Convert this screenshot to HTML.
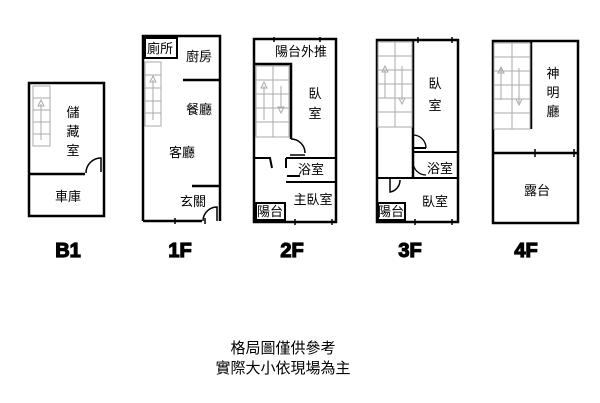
<!DOCTYPE html>
<html><head><meta charset="utf-8"><style>
html,body{margin:0;padding:0;background:#fff;}
svg{display:block;}
text{font-family:"Liberation Sans","Noto Sans CJK TC",sans-serif;fill:#000;}
.t{font-size:13px;text-anchor:middle;}
.f{font-size:20px;font-weight:bold;text-anchor:middle;stroke:#000;stroke-width:1.2;}
.st{stroke:#aaa;stroke-width:1;fill:none;}
</style></head><body>
<svg width="600" height="403" viewBox="0 0 600 403">
<g stroke="#000" stroke-width="2.5" fill="none">
<!-- B1 -->
<rect x="29" y="83" width="75" height="133"/>
<line x1="29" y1="174" x2="85" y2="174"/>
<path d="M86 173 A15 15 0 0 1 101 158 L101 172" stroke-width="1.5"/>
<!-- 1F -->
<path d="M143 221 L143 36 L220 36 L220 221 M143 221 L202 221"/>
<rect x="145" y="38" width="32" height="20" stroke-width="2"/>
<line x1="183" y1="80" x2="220" y2="80"/>
<line x1="192" y1="186" x2="220" y2="186"/>
<path d="M203 221 A14 14 0 0 1 217 207 L217 221" stroke-width="1.5"/>
<!-- 2F -->
<rect x="254" y="39" width="82" height="183"/>
<path d="M254 64 L291 64 L291 139"/>
<path d="M291 139 A14 14 0 0 1 305 153 M290 155 L305 155" stroke-width="1.5"/>
<path d="M254 158 L270 158 L272 168 M286 158 L336 158 M286 158 L286 168 M286 182 L336 182 M287 176 L300 176" stroke-width="2"/>
<rect x="256" y="203" width="29" height="17" stroke-width="2"/>
<!-- 3F -->
<rect x="377" y="40" width="81" height="182"/>
<line x1="413" y1="40" x2="413" y2="178"/>
<path d="M413 152 L458 152 M377 178 L458 178 M413 148 L426 148" stroke-width="2"/>
<path d="M413 135 A13 13 0 0 1 426 148 M413 162 A13 13 0 0 0 426 175" stroke-width="1.3"/>
<path d="M390 178 L390 192 A12 12 0 0 0 400 180" stroke-width="1.5"/>
<rect x="378" y="203" width="27" height="17" stroke-width="2"/>
<!-- 4F -->
<rect x="493" y="41" width="85" height="182"/>
<line x1="531" y1="41" x2="531" y2="129"/>
<line x1="493" y1="153" x2="578" y2="153"/>
</g>
<!-- stairs -->
<g class="st">
<rect x="33" y="86" width="17" height="60"/><path d="M33 98 H50 M33 110 H50 M33 122 H50 M33 134 H50 M41 104 V140 M38 106 L41 100 L44 106 Z"/>
<rect x="145" y="62" width="16" height="64"/><path d="M145 75 H161 M145 88 H161 M145 101 H161 M145 113 H161 M153 80 V120 M150 82 L153 76 L156 82 Z"/>
<rect x="256" y="66" width="33" height="71"/><path d="M273 66 V137 M256 80 H289 M256 94 H289 M256 108 H289 M256 122 H289 M264 86 V120 M281 86 V108 M261 88 L264 82 L267 88 Z M278 107 L281 113 L284 107 Z"/>
<rect x="378" y="42" width="34" height="85"/><path d="M395 42 V127 M378 56 H412 M378 70 H412 M378 84 H412 M378 98 H412 M378 112 H412 M385 70 V98 M402 66 V100 M382 72 L385 66 L388 72 Z M399 98 L402 104 L405 98 Z"/>
<rect x="494" y="43" width="36" height="86"/><path d="M512 43 V129 M494 57 H530 M494 71 H530 M494 85 H530 M494 99 H530 M494 113 H530 M501 67 V100 M519 68 V103 M498 73 L501 67 L504 73 Z M516 99 L519 105 L522 99 Z"/>
</g>
<g stroke="#000" stroke-width="1.5"><path d="M274 37 V42 M320 37 V42 M418 37 V43 M452 37 V43 M535 149 V157 M574 149 V157 M295 219 V225 M332 219 V225 M415 219 V225 M452 219 V225 M175 218 V224 M205 218 V224"/></g>
<text class="t" x="73" y="117">儲</text><text class="t" x="73" y="136">藏</text><text class="t" x="73" y="155">室</text>
<text class="t" x="68" y="201">車庫</text>
<text class="t" x="160" y="53">廁所</text><text class="t" x="199" y="61">廚房</text>
<text class="t" x="199" y="114">餐廳</text><text class="t" x="182" y="157">客廳</text><text class="t" x="193" y="206">玄關</text>
<text class="t" x="301" y="56">陽台外推</text><text class="t" x="315" y="98">臥</text><text class="t" x="315" y="118">室</text>
<text class="t" x="311" y="174">浴室</text><text class="t" x="313" y="204">主臥室</text><text class="t" x="270" y="216">陽台</text>
<text class="t" x="435" y="88">臥</text><text class="t" x="435" y="110">室</text>
<text class="t" x="440" y="173">浴室</text><text class="t" x="435" y="206">臥室</text><text class="t" x="391" y="216">陽台</text>
<text class="t" x="553" y="78">神</text><text class="t" x="553" y="97">明</text><text class="t" x="553" y="116">廳</text>
<text class="t" x="537" y="195">露台</text>
<text class="f" x="68" y="257">B1</text><text class="f" x="180" y="257">1F</text><text class="f" x="292" y="257">2F</text><text class="f" x="410" y="257">3F</text><text class="f" x="526" y="257">4F</text>
<text x="283" y="353" style="font-size:15px;text-anchor:middle">格局圖僅供參考</text>
<text x="283" y="373" style="font-size:15px;text-anchor:middle">實際大小依現場為主</text>
</svg>
</body></html>
